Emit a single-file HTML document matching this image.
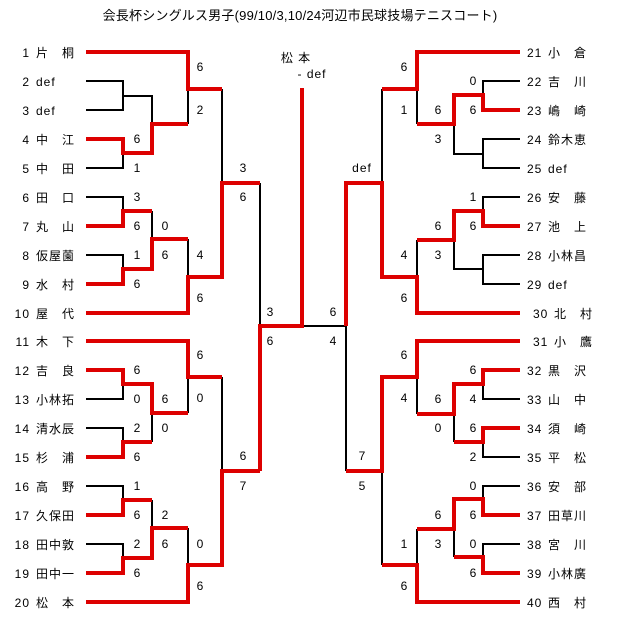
<!DOCTYPE html>
<html><head><meta charset="utf-8"><style>
body{margin:0;background:#fff}
svg{display:block}
text{font-family:"Liberation Sans","Noto Sans CJK JP",sans-serif;font-size:12px;fill:#000}
.n{font-size:13px;letter-spacing:1px}
.s{text-anchor:middle}
</style></head><body>
<svg width="619" height="640" viewBox="0 0 619 640" xmlns="http://www.w3.org/2000/svg">
<text x="300" y="20" class="s" style="font-size:13px;letter-spacing:0.2px">会長杯シングルス男子(99/10/3,10/24河辺市民球技場テニスコート)</text>
<g fill="none" stroke="#000" stroke-width="2">
<path d="M86 81H123V110H86M123 96H152V124"/>
<path d="M188 89V124M86 168H123V153"/>
<path d="M86 197H123V211M152 211V239M86 255H123V269M188 239V277M222 89V183M260 183V326M302 326H346"/>
<path d="M188 377V413M86 399H123V384M86 428H123V442M152 413V442M86 486H123V500M152 500V528M86 544H123V558M188 528V565M222 377V471"/>
<path d="M417 89V124M520 81H483V95M520 139H483V168H520M483 154H454V124M520 197H483V211M520 255H483V284H520M483 269H454V240M417 240V277M382 89V183"/>
<path d="M417 377V414M520 399H483V384M520 457H483V442M454 414V442M346 326V471M382 471V565M520 486H483V499M520 544H483V557M454 529V557M417 529V565"/>
</g>
<g fill="none" stroke="#dd0000" stroke-width="4" stroke-linejoin="miter">
<path d="M86 52H188V89H222"/>
<path d="M86 139H123V153H152V124H188"/>
<path d="M86 226H123V211H152"/>
<path d="M86 284H123V269H152V239H188"/>
<path d="M86 313H188V277H222V183H260"/>
<path d="M260 471V326H302V88"/>
<path d="M86 341H188V377H222"/>
<path d="M86 370H123V384H152V413H188"/>
<path d="M86 457H123V442H152"/>
<path d="M86 515H123V500H152"/>
<path d="M86 573H123V558H152V528H188"/>
<path d="M86 602H188V565H222V471H260"/>
<path d="M520 52H417V89H382"/>
<path d="M520 110H483V95H454V124H417"/>
<path d="M520 226H483V211H454V240H417"/>
<path d="M520 313H417V277H382V183H346V326"/>
<path d="M520 341H417V377H382V471H346"/>
<path d="M520 370H483V384H454V414H417"/>
<path d="M520 428H483V442H454"/>
<path d="M520 515H483V499H454V529H417"/>
<path d="M520 573H483V557H454"/>
<path d="M520 602H417V565H382"/>
</g>
<g class="n">
<text x="30" y="57" text-anchor="end">1</text><text x="36" y="57">片　桐</text>
<text x="30" y="86" text-anchor="end">2</text><text x="36" y="86">def</text>
<text x="30" y="115" text-anchor="end">3</text><text x="36" y="115">def</text>
<text x="30" y="144" text-anchor="end">4</text><text x="36" y="144">中　江</text>
<text x="30" y="173" text-anchor="end">5</text><text x="36" y="173">中　田</text>
<text x="30" y="202" text-anchor="end">6</text><text x="36" y="202">田　口</text>
<text x="30" y="231" text-anchor="end">7</text><text x="36" y="231">丸　山</text>
<text x="30" y="260" text-anchor="end">8</text><text x="36" y="260">仮屋薗</text>
<text x="30" y="289" text-anchor="end">9</text><text x="36" y="289">水　村</text>
<text x="30" y="318" text-anchor="end">10</text><text x="36" y="318">屋　代</text>
<text x="30" y="346" text-anchor="end">11</text><text x="36" y="346">木　下</text>
<text x="30" y="375" text-anchor="end">12</text><text x="36" y="375">吉　良</text>
<text x="30" y="404" text-anchor="end">13</text><text x="36" y="404">小林拓</text>
<text x="30" y="433" text-anchor="end">14</text><text x="36" y="433">清水辰</text>
<text x="30" y="462" text-anchor="end">15</text><text x="36" y="462">杉　浦</text>
<text x="30" y="491" text-anchor="end">16</text><text x="36" y="491">高　野</text>
<text x="30" y="520" text-anchor="end">17</text><text x="36" y="520">久保田</text>
<text x="30" y="549" text-anchor="end">18</text><text x="36" y="549">田中敦</text>
<text x="30" y="578" text-anchor="end">19</text><text x="36" y="578">田中一</text>
<text x="30" y="607" text-anchor="end">20</text><text x="36" y="607">松　本</text>
<text x="527" y="57">21</text><text x="548" y="57">小　倉</text>
<text x="527" y="86">22</text><text x="548" y="86">吉　川</text>
<text x="527" y="115">23</text><text x="548" y="115">嶋　崎</text>
<text x="527" y="144">24</text><text x="548" y="144">鈴木恵</text>
<text x="527" y="173">25</text><text x="548" y="173">def</text>
<text x="527" y="202">26</text><text x="548" y="202">安　藤</text>
<text x="527" y="231">27</text><text x="548" y="231">池　上</text>
<text x="527" y="260">28</text><text x="548" y="260">小林昌</text>
<text x="527" y="289">29</text><text x="548" y="289">def</text>
<text x="533" y="318">30</text><text x="554" y="318">北　村</text>
<text x="533" y="346">31</text><text x="554" y="346">小　鷹</text>
<text x="527" y="375">32</text><text x="548" y="375">黒　沢</text>
<text x="527" y="404">33</text><text x="548" y="404">山　中</text>
<text x="527" y="433">34</text><text x="548" y="433">須　崎</text>
<text x="527" y="462">35</text><text x="548" y="462">平　松</text>
<text x="527" y="491">36</text><text x="548" y="491">安　部</text>
<text x="527" y="520">37</text><text x="548" y="520">田草川</text>
<text x="527" y="549">38</text><text x="548" y="549">宮　川</text>
<text x="527" y="578">39</text><text x="548" y="578">小林廣</text>
<text x="527" y="607">40</text><text x="548" y="607">西　村</text>
<text x="296" y="62" class="s">松 本</text>
<text x="312" y="78" class="s">- def</text>
</g>
<g class="s">
<text x="200" y="71">6</text><text x="200" y="114">2</text><text x="137" y="143">6</text><text x="137" y="172">1</text>
<text x="137" y="201">3</text><text x="137" y="230">6</text><text x="165" y="230">0</text><text x="137" y="259">1</text>
<text x="165" y="259">6</text><text x="200" y="259">4</text><text x="137" y="288">6</text><text x="200" y="302">6</text>
<text x="243" y="172">3</text><text x="243" y="201">6</text><text x="270" y="316">3</text><text x="270" y="345">6</text>
<text x="200" y="359">6</text><text x="137" y="374">6</text><text x="137" y="403">0</text><text x="165" y="403">6</text>
<text x="200" y="402">0</text><text x="137" y="432">2</text><text x="165" y="432">0</text><text x="137" y="461">6</text>
<text x="243" y="460">6</text><text x="243" y="490">7</text><text x="137" y="490">1</text><text x="137" y="519">6</text>
<text x="165" y="519">2</text><text x="137" y="548">2</text><text x="165" y="548">6</text><text x="200" y="548">0</text>
<text x="137" y="577">6</text><text x="200" y="590">6</text>
<text x="404" y="71">6</text><text x="404" y="114">1</text><text x="473" y="85">0</text><text x="473" y="114">6</text>
<text x="438" y="114">6</text><text x="438" y="143">3</text><text x="362" y="172" style="letter-spacing:1px">def</text>
<text x="473" y="201">1</text><text x="473" y="230">6</text><text x="438" y="230">6</text><text x="438" y="259">3</text>
<text x="404" y="259">4</text><text x="404" y="302">6</text><text x="333" y="316">6</text><text x="333" y="345">4</text>
<text x="404" y="359">6</text><text x="473" y="374">6</text><text x="404" y="402">4</text><text x="438" y="403">6</text>
<text x="473" y="403">4</text><text x="438" y="432">0</text><text x="473" y="432">6</text><text x="473" y="461">2</text>
<text x="362" y="460">7</text><text x="362" y="490">5</text><text x="473" y="490">0</text><text x="473" y="519">6</text>
<text x="438" y="519">6</text><text x="404" y="548">1</text><text x="438" y="548">3</text><text x="473" y="548">0</text>
<text x="473" y="577">6</text><text x="404" y="590">6</text>
</g>
</svg>
</body></html>
